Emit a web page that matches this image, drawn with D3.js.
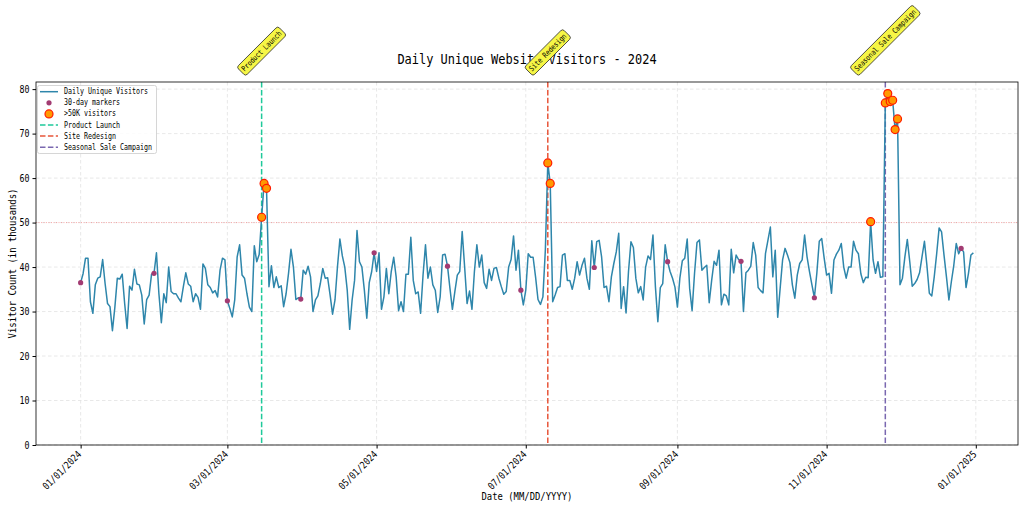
<!DOCTYPE html>
<html>
<head>
<meta charset="utf-8">
<script src="https://cdn.jsdelivr.net/npm/d3@7"></script>
<style>
  body { margin: 0; background: #fff; }
  svg { display: block; }
  text { font-family: "DejaVu Sans Mono", monospace; fill: #000; }
</style>
</head>
<body>
<script>
(function () {
	"use strict";

	// daily unique visitors (thousands), one value per day of 2024
	var startDate = new Date(2024, 0, 1);
	var visitors = [
		36.5, 38.5, 42, 42, 32.2, 29.6, 36, 37.5, 37.8, 41.7, 36.3, 31.8, 31.1, 25.7, 31, 37.5, 37.3, 38.4, 31.8, 26.2,
		35.7, 34.8, 39.5, 36.2, 36, 33.7, 27.2, 32.7, 33.7, 38.4, 38.6, 43.2, 34, 27.5, 34, 32, 40, 34.5, 34, 34,
		33, 32.2, 35.6, 38.7, 36.2, 35.7, 32.2, 34, 33.2, 30.5, 40.7, 39.7, 36, 35.4, 34.2, 34.7, 33.3, 39.3, 42, 41.6,
		32.4, 30.7, 28.8, 32.6, 42.3, 45, 38.2, 37.5, 34, 31, 30, 44.8, 41.2, 42.8, 51.2, 58.8, 57.7, 35.6, 40.3, 35.4,
		37.8, 35.4, 35.8, 31.1, 34, 38.6, 44, 40, 32.7, 33.1, 32.8, 39.3, 38.4, 40.2, 37.8, 30, 32.6, 33.5, 36.3, 39.7,
		37.5, 37.6, 33.7, 29.4, 32.6, 40, 46.3, 42.5, 40, 34.8, 26, 32.6, 37, 48.2, 41.2, 40, 34.8, 28.5, 36.5, 39,
		43.2, 39, 43.2, 30.5, 33.3, 39.7, 34, 39, 42.2, 37.8, 30.2, 32.2, 30, 38.4, 38.4, 46.7, 37, 34, 34.4, 29.6,
		38.2, 45, 37.5, 40, 36, 34.8, 29.8, 33.3, 42.7, 42.9, 40.2, 35.2, 30.5, 34.5, 38.2, 39, 48, 40, 31.8, 34.6,
		30.5, 39, 45, 40, 42.7, 36.5, 35.2, 39.5, 37, 39.7, 39.9, 37.5, 35.6, 33.9, 34.5, 40, 41.7, 47, 39.3, 43.8,
		34.8, 31.5, 34.8, 43, 42.2, 42.2, 37.8, 32.7, 31.6, 33.3, 43.8, 63.4, 58.8, 32.2, 33.7, 35.4, 35.6, 42.7, 43, 37,
		37, 35, 37.5, 41.2, 38.2, 40.4, 42, 37.5, 35, 45.9, 39.9, 45.7, 46, 42.3, 35.4, 35.7, 32.2, 37.8, 40.8, 43.4,
		47.6, 30.7, 35.6, 29.7, 39, 45.7, 44.4, 37.5, 34.2, 35.6, 32.6, 40, 42.5, 41.7, 47.2, 35.6, 27.7, 35.4, 36.3, 45,
		41.2, 39, 37.5, 35.5, 31, 37.5, 41.4, 42, 46.3, 35.2, 30.2, 38.6, 45.5, 46.1, 39.3, 39.9, 40.4, 32, 37, 41.3,
		40.4, 43.8, 31.5, 33.9, 33.5, 31.5, 44, 38.7, 42.7, 41.7, 41.3, 30, 38.7, 39.3, 40.2, 45.5, 42.7, 35.4, 34.7, 34.2,
		43, 46, 49, 37.8, 43.8, 28.7, 35.2, 41.6, 44.2, 42.7, 41, 36, 33, 38.2, 40.8, 41.6, 47.2, 42.3, 39, 36,
		33.1, 38.6, 45.8, 46.4, 42, 38.2, 38.6, 34.1, 41.6, 42.9, 43.8, 45.3, 40, 37.5, 40, 40, 45.8, 43.8, 43, 38.5,
		36.5, 37.7, 37.6, 50.2, 41.6, 38.6, 41.2, 37.7, 37.8, 76.9, 79, 77.2, 77.5, 70.9, 73.3, 36, 37.5, 42.3, 46.2, 41.2,
		35.7, 36.3, 37.2, 38.7, 42.3, 45.8, 40.4, 34.1, 33.5, 37.8, 43, 48.8, 47.9, 42.7, 37.8, 32.6, 36.7, 40.4, 45.3, 43,
		44.2, 43.4, 35.4, 38.6, 42.7, 43.2
	];
	var markerEvery = 30;
	var threshold = 50;

	var eventNames = ["Product Launch", "Site Redesign", "Seasonal Sale Campaign"];
	var eventDates = ["2024-03-15", "2024-07-10", "2024-11-25"];
	var eventColors = ["#1fc99a", "#e8553a", "#7a68b0"];

	var yTicks = [0, 10, 20, 30, 40, 50, 60, 70, 80];
	var yMax = 81.6;

	var titleText = "Daily Unique Website Visitors - 2024";
	var xLabel = "Date (MM/DD/YYYY)";
	var yLabel = "Visitor Count (in thousands)";
	var legendLabels = ["Daily Unique Visitors", "30-day markers", ">50K visitors"];

	var W = 1024, H = 508;
	var L = 36, R = 1018, T = 82, B = 445;
	var lineColor = "#2e86ab";
	var markColor = "#a23b72";

	// monospace half-width text, squeezed like the original font
	function mono(sel, str, size) {
		sel.text(str)
			.attr("font-size", size)
			.attr("textLength", str.length * size * 0.5)
			.attr("lengthAdjust", "spacingAndGlyphs");
		return sel;
	}

	var parse = d3.timeParse("%Y-%m-%d");
	var rows = visitors.map((v, i) => ({ date: d3.timeDay.offset(startDate, i), value: v, i: i }));
	var events = eventNames.map((n, i) => ({ name: n, date: parse(eventDates[i]), color: eventColors[i] }));

	var padH = 18.25 * 24;
	var x = d3.scaleTime()
		.domain([d3.timeHour.offset(rows[0].date, -padH), d3.timeHour.offset(rows[rows.length - 1].date, padH)])
		.range([L, R]);
	var y = d3.scaleLinear().domain([0, yMax]).range([B, T]);

	var xTicks = d3.timeMonth.every(2).range(new Date(2024, 0, 1), new Date(2025, 0, 2));

	var svg = d3.select("body").append("svg")
		.attr("width", W)
		.attr("height", H);

	// grid
	var grid = svg.append("g");
	grid.selectAll(".gx").data(xTicks).enter().append("line")
		.attr("x1", (d) => x(d)).attr("x2", (d) => x(d))
		.attr("y1", T).attr("y2", B);
	grid.selectAll(".gy").data(yTicks).enter().append("line")
		.attr("y1", (d) => y(d)).attr("y2", (d) => y(d))
		.attr("x1", L).attr("x2", R);
	grid.selectAll("line")
		.attr("stroke", "#e2e2e2")
		.attr("stroke-width", 0.8)
		.attr("stroke-dasharray", "3.5,2.5");

	// threshold line
	svg.append("line")
		.attr("x1", L).attr("x2", R)
		.attr("y1", y(threshold)).attr("y2", y(threshold))
		.attr("stroke", "#ff5050")
		.attr("stroke-opacity", 0.45)
		.attr("stroke-width", 1)
		.attr("stroke-dasharray", "1,1.5");

	// event lines
	svg.selectAll(".ev").data(events).enter().append("line")
		.attr("x1", (d) => x(d.date)).attr("x2", (d) => x(d.date))
		.attr("y1", T).attr("y2", B)
		.attr("stroke", (d) => d.color)
		.attr("stroke-width", 1.5)
		.attr("stroke-dasharray", "5.5,2.4");

	// main line
	var lineFun = d3.line()
		.x((d) => x(d.date))
		.y((d) => y(d.value));
	svg.append("path")
		.attr("d", lineFun(rows))
		.attr("fill", "none")
		.attr("stroke", lineColor)
		.attr("stroke-width", 1.5)
		.attr("stroke-linejoin", "round");

	// 30-day markers
	svg.selectAll(".m30").data(rows.filter((d) => d.i % markerEvery === 0)).enter().append("circle")
		.attr("cx", (d) => x(d.date))
		.attr("cy", (d) => y(d.value))
		.attr("r", 2.6)
		.attr("fill", markColor);

	// high days
	svg.selectAll(".hi").data(rows.filter((d) => d.value > threshold)).enter().append("circle")
		.attr("cx", (d) => x(d.date))
		.attr("cy", (d) => y(d.value))
		.attr("r", 4)
		.attr("fill", "#ff9900")
		.attr("stroke", "#ff1a00")
		.attr("stroke-width", 1.2);

	// axes
	var yAxis = svg.append("g")
		.attr("transform", "translate(" + L + ",0)")
		.call(d3.axisLeft(y).tickValues(yTicks).tickSize(3.5).tickSizeOuter(0).tickPadding(3));
	yAxis.select(".domain").remove();
	yAxis.attr("font-family", null);
	yAxis.selectAll("text").each(function (d) { mono(d3.select(this), String(d), 10); });

	var xAxis = svg.append("g")
		.attr("transform", "translate(0," + B + ")")
		.call(d3.axisBottom(x).tickValues(xTicks).tickFormat(d3.timeFormat("%m/%d/%Y")).tickSize(3.5).tickSizeOuter(0));
	xAxis.select(".domain").remove();
	xAxis.attr("font-family", null);
	xAxis.selectAll("text")
		.attr("y", 0)
		.attr("dy", null)
		.attr("text-anchor", "end")
		.attr("transform", "translate(1,10) rotate(-45)")
		.each(function (d) { mono(d3.select(this), d3.timeFormat("%m/%d/%Y")(d), 10); });

	// frame
	svg.append("rect")
		.attr("x", L).attr("y", T)
		.attr("width", R - L).attr("height", B - T)
		.attr("fill", "none")
		.attr("stroke", "#000")
		.attr("stroke-width", 0.8);

	// axis labels and title
	mono(svg.append("text"), xLabel, 10.7)
		.attr("x", (L + R) / 2).attr("y", 500)
		.attr("text-anchor", "middle");
	mono(svg.append("text"), yLabel, 10.7)
		.attr("text-anchor", "middle")
		.attr("transform", "translate(16," + (T + B) / 2 + ") rotate(-90)");
	mono(svg.append("text"), titleText, 14.4)
		.attr("x", (L + R) / 2).attr("y", 64)
		.attr("text-anchor", "middle");

	// event annotations
	var annSize = 7.6, annPad = 2.4;
	events.forEach(function (ev) {
		var bw = ev.name.length * annSize * 0.5 + 2 * annPad;
		var bh = annSize + 2 * annPad;
		var half = (bw + bh) / (2 * Math.SQRT2);
		var g = svg.append("g")
			.attr("transform", "translate(" + x(ev.date) + "," + (76 - half) + ") rotate(-45)");
		g.append("rect")
			.attr("x", -bw / 2).attr("y", -bh / 2)
			.attr("width", bw).attr("height", bh)
			.attr("rx", 2.5)
			.attr("fill", "#f6f646")
			.attr("stroke", "#333")
			.attr("stroke-width", 0.8);
		mono(g.append("text"), ev.name, annSize)
			.attr("text-anchor", "middle")
			.attr("dominant-baseline", "central");
	});

	// legend
	var lg = svg.append("g");
	lg.append("rect")
		.attr("x", 37.5).attr("y", 85.5)
		.attr("width", 119).attr("height", 68)
		.attr("rx", 2)
		.attr("fill", "#fff")
		.attr("fill-opacity", 0.85)
		.attr("stroke", "#cccccc")
		.attr("stroke-width", 0.8);
	var rowY = (k) => 91.7 + k * 11.1;
	var allLabels = legendLabels.concat(eventNames);
	allLabels.forEach(function (lab, k) {
		var cy = rowY(k);
		if (k === 0) {
			lg.append("line").attr("x1", 40).attr("x2", 58).attr("y1", cy).attr("y2", cy)
				.attr("stroke", lineColor).attr("stroke-width", 1.5);
		} else if (k === 1) {
			lg.append("circle").attr("cx", 49).attr("cy", cy).attr("r", 2.6).attr("fill", markColor);
		} else if (k === 2) {
			lg.append("circle").attr("cx", 49).attr("cy", cy).attr("r", 4)
				.attr("fill", "#ff9900").attr("stroke", "#ff1a00").attr("stroke-width", 1.2);
		} else {
			lg.append("line").attr("x1", 40).attr("x2", 58).attr("y1", cy).attr("y2", cy)
				.attr("stroke", events[k - 3].color).attr("stroke-width", 1.5)
				.attr("stroke-dasharray", "5.5,2.4");
		}
		mono(lg.append("text"), lab, 8)
			.attr("x", 64).attr("y", cy)
			.attr("dominant-baseline", "central");
	});
})();
</script>
</body>
</html>
